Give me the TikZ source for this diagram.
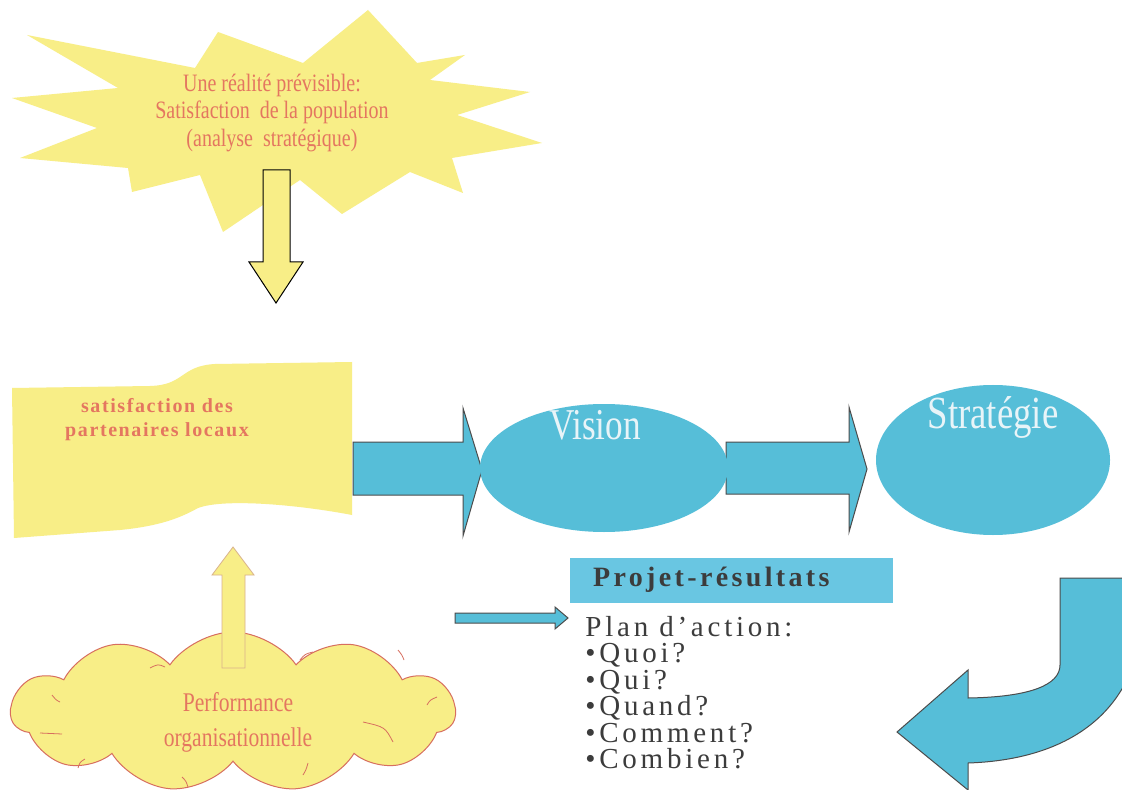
\documentclass[tikz,border=0pt]{standalone}
\usepackage{fontspec}
\setmainfont{Liberation Serif}
\newfontfamily\condfont[FakeStretch=0.8]{Liberation Serif}
\newfontfamily\spacedfont[LetterSpace=8]{Liberation Serif}
\newfontfamily\projfont[LetterSpace=12]{Liberation Serif}
\newfontfamily\widefont[LetterSpace=13]{Liberation Serif}
\usetikzlibrary{shapes.symbols,shapes.geometric}
\definecolor{sunyellow}{RGB}{248,238,135}
\definecolor{skyblue}{RGB}{86,190,216}
\definecolor{boxblue}{RGB}{105,198,226}
\definecolor{salmon}{RGB}{228,118,96}
\definecolor{cloudline}{RGB}{215,110,95}
\definecolor{darktext}{RGB}{60,60,60}
\definecolor{lighttext}{RGB}{232,244,248}
\tikzset{
  blockarrow/.style={fill=skyblue, draw=gray!60!black, line width=0.5pt},
  yellowarrow/.style={fill=sunyellow, draw=black, line width=0.5pt},
  blob/.style={ellipse, fill=skyblue, inner sep=0pt},
  cloudtick/.style={draw=cloudline, line width=0.4pt},
}
\begin{document}
\begin{tikzpicture}[x=0.5pt,y=-0.5pt]
\useasboundingbox (0,0) rectangle (1122,790);
\fill[white] (0,0) rectangle (1122,790);

% starburst
\fill[sunyellow] (27,35) -- (195,68) -- (218,32) -- (303,63) -- (368,10) -- (417,63)
  -- (465,55) -- (430,80) -- (530,92) -- (457,115) -- (542,143) -- (452,158)
  -- (463,193) -- (410,172) -- (342,214) -- (300,180) -- (223,232) -- (200,175)
  -- (132,192) -- (128,168) -- (20,158) -- (97,128) -- (12,98) -- (118,88) -- cycle;
\node[align=center, text=salmon, font=\condfont\fontsize{12.5}{13.8}\selectfont] (star) at (272,113)
  {Une réalité prévisible:\\Satisfaction\ \ de la population\\(analyse\ \ stratégique)};

% down arrow
\draw[yellowarrow] (263,170) -- (290,170) -- (290,262) -- (303,262) -- (276,303)
  -- (249,262) -- (263,262) -- cycle;

% banner
\fill[sunyellow] (12,388) -- (150,386) .. controls (185,385) and (180,366) .. (215,364)
  -- (352,362) -- (352,515) .. controls (300,505) and (225,498) .. (198,508)
  .. controls (180,518) and (160,526) .. (120,530) -- (14,538) -- cycle;
\node[align=center, text=salmon, font=\spacedfont\bfseries\fontsize{10}{12}\selectfont] (banner) at (157,420)
  {satisfaction des\\partenaires locaux};

% blue arrows
\draw[blockarrow] (353,442) -- (463,442) -- (463,408) -- (482,470) -- (463,536)
  -- (463,495) -- (353,495) -- cycle;
\draw[blockarrow] (726,442) -- (849,442) -- (849,407) -- (867,469) -- (849,532)
  -- (849,494) -- (726,494) -- cycle;

% ellipses
\node[blob, minimum width=124pt, minimum height=64pt] (vision) at (604,468) {};
\node[text=lighttext, font=\condfont\fontsize{22}{24}\selectfont] at (595,425) {Vision};
\node[blob, minimum width=117pt, minimum height=75pt] (strat) at (993,460) {};
\node[text=lighttext, font=\condfont\fontsize{23}{25}\selectfont] at (993,417) {Stratégie};

% projet box
\fill[boxblue] (570,558) rectangle (893,603);
\node[anchor=west, text=darktext, font=\projfont\bfseries\fontsize{14}{15}\selectfont] (projet) at (586,580) {Projet-résultats};

% thin arrow
\draw[blockarrow] (455,613) -- (555,613) -- (555,607) -- (568,618) -- (555,629)
  -- (555,623) -- (455,623) -- cycle;

% plan text
\node[anchor=north west, align=left, text=darktext, inner sep=0pt,
  font=\widefont\fontsize{14.5}{13.2}\selectfont] (plan) at (585,616)
  {Plan d’action:\\•Quoi?\\•Qui?\\•Quand?\\•Comment?\\•Combien?};

% curved arrow
\draw[blockarrow] (1060,578) -- (1140,578) -- (1140,640) .. controls (1125,720) and (1060,760) .. (968,763)
  -- (968,790) -- (897,732) -- (968,670) -- (968,698)
  .. controls (1030,697) and (1060,685) .. (1060,665) -- cycle;

% cloud
\node[cloud, cloud puffs=11, cloud puff arc=110, aspect=2.9, fill=sunyellow, draw=cloudline,
  line width=0.5pt, minimum width=222pt, minimum height=80pt, inner sep=0pt] (cloud) at (233,712) {};
\draw[cloudtick] (150,668) .. controls (158,664) .. (165,667);
\draw[cloudtick] (52,695) .. controls (56,700) .. (60,702);
\draw[cloudtick] (40,733) -- (62,734);
\draw[cloudtick] (78,768) .. controls (80,762) .. (85,759);
\draw[cloudtick] (300,660) .. controls (305,654) .. (313,652);
\draw[cloudtick] (398,650) .. controls (402,655) .. (404,660);
\draw[cloudtick] (437,697) .. controls (430,700) .. (427,705);
\draw[cloudtick] (363,722) .. controls (385,727) .. (393,742);
\draw[cloudtick] (308,763) .. controls (306,770) .. (303,775);
\draw[cloudtick] (182,777) .. controls (186,781) .. (188,787);

% up arrow
\draw[fill=sunyellow, draw=brown!60, line width=0.4pt] (222,668) -- (245,668) -- (245,575)
  -- (254,575) -- (233,547) -- (212,575) -- (222,575) -- cycle;
\node[align=center, text=salmon, font=\condfont\fontsize{13.5}{17.5}\selectfont] (perf) at (238,722)
  {Performance\\organisationnelle};
\end{tikzpicture}
\end{document}
